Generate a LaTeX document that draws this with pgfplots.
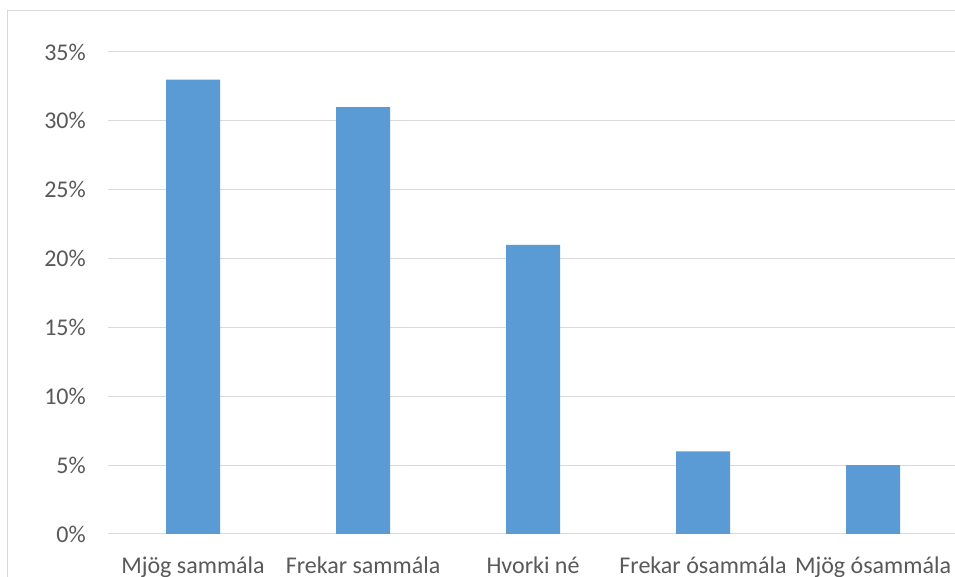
\documentclass[border=0pt]{standalone}
\usepackage{pgfplots}
\pgfplotsset{compat=1.18}
\usepackage{fontspec}
\setmainfont{Carlito}
\definecolor{barblue}{HTML}{5B9BD5}
\definecolor{gridgray}{HTML}{D9D9D9}
\definecolor{labelgray}{HTML}{595959}
\begin{document}
\begin{tikzpicture}[x=1pt,y=1pt]
\useasboundingbox (0,0) rectangle (955,577);
\clip (0,0) rectangle (955,577);
\fill[white] (0,0) rectangle (955,577);
\draw[gridgray, line width=1pt] (7,-20) -- (7,566.5) -- (980,566.5);
\begin{axis}[
  at={(108pt,43pt)}, anchor=south west,
  scale only axis, width=847pt, height=482pt,
  xmin=-0.5, xmax=4.482, ymin=0, ymax=35,
  ybar, bar width=54pt,
  xtick={0,1,2,3,4},
  xticklabels={Mjög sammála, Frekar sammála, Hvorki né, Frekar ósammála, Mjög ósammála},
  ytick={0,5,10,15,20,25,30,35},
  yticklabel={\pgfmathprintnumber{\tick}\%},
  /pgf/number format/assume math mode=true,
  ymajorgrids,
  grid style={draw=gridgray, line width=1pt},
  axis line style={draw=none},
  major tick length=0pt,
  tick label style={font=\fontsize{24}{28}\selectfont, text=labelgray},
  yticklabel style={anchor=east, inner sep=0pt, xshift=-22pt},
  xticklabel style={anchor=base, inner sep=0pt, yshift=-40pt},
  clip=false,
]
\addplot[fill=barblue, draw=none] coordinates {(0,33) (1,31) (2,21) (3,6) (4,5)};
\end{axis}
\end{tikzpicture}
\end{document}
